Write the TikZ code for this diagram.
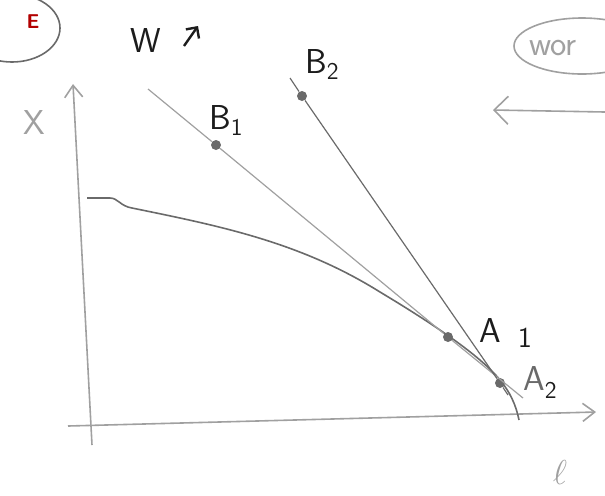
\documentclass[tikz,border=0pt]{standalone}
\usetikzlibrary{arrows.meta,positioning}
\definecolor{pencil}{HTML}{6A6A6A}
\definecolor{lightpencil}{HTML}{A0A0A0}
\definecolor{ink}{HTML}{1C1C1C}

\begin{document}
\begin{tikzpicture}[x=0.5pt, y=-0.5pt,
    axis/.style={thick, color=lightpencil, -{Straight Barb[length=6pt, width=9pt]}},
    hand/.style={font=\LARGE\sffamily, color=ink},
    faint/.style={font=\LARGE\sffamily, color=lightpencil},
    dot/.style={circle, fill=pencil, inner sep=0pt, minimum size=5pt}]
    \useasboundingbox (0,0) rectangle (605,495);

    % bubbles at the top
    \draw[pencil, thick] (12,28) ellipse [x radius=24pt, y radius=17pt];
    \node[font=\normalsize\sffamily\bfseries, color=red!70!black] (tag) at (33,22) {E};
    \draw[lightpencil, thick] (582,46) ellipse [x radius=34pt, y radius=14pt];
    \node[faint, anchor=west] (wor) at (522,48) {wor};
    \coordinate (arrstart) at (605,112);
    \coordinate (arrend) at (493,110);
    \draw[lightpencil, thick, -{Straight Barb[length=7pt, width=14pt]}] (arrstart) -- (arrend);

    % W up
    \node[hand] (wage) at (146,40) {W};
    \coordinate (upfoot) at (184,46);
    \coordinate (uphead) at (198,26);
    \draw[ink, very thick, -{Straight Barb[length=4pt, width=8pt]}] (upfoot) -- (uphead);

    % axes
    \coordinate (origin) at (92,428);
    \coordinate (ytop) at (73,84);
    \coordinate (xleft) at (68,426);
    \coordinate (xright) at (596,412);
    \draw[axis] (92,445) -- (ytop);
    \draw[axis] (xleft) -- (xright);
    \node[faint] (xlab) at (34,122) {X};
    \node[faint, font=\LARGE\itshape] (llab) at (560,472) {$\ell$};

    % production curve
    \draw[pencil, thick] (87,198) -- (110,198)
        .. controls (118,198) and (120,206) .. (132,208)
        .. controls (220,226) and (300,242) .. (380,292)
        .. controls (430,322) and (480,355) .. (500,380)
        .. controls (510,392) and (516,405) .. (519,420);

    % tangent lines
    \node[dot] (B1) at (216,145) {};
    \node[dot] (A1) at (448,337) {};
    \node[dot] (B2) at (302,96) {};
    \node[dot] (A2) at (500,383) {};
    \coordinate (top1) at (148,89);
    \coordinate (end1) at (523,398);
    \coordinate (top2) at (290,78);
    \coordinate (end2) at (508,395);
    \draw[lightpencil, semithick] (top1) -- (B1) -- (A1) -- (end1);
    \draw[pencil, semithick] (top2) -- (B2) -- (A2) -- (end2);

    % labels
    \node[hand] (B1lab) at (226,120) {B\raisebox{-3pt}{\large 1}};
    \node[hand] (B2lab) at (322,64) {B\raisebox{-3pt}{\large 2}};
    \node[hand] (A1lab) at (490,330) {A};
    \node[hand, font=\Large\sffamily] (A1sub) at (525,338) {1};
    \node[faint, color=pencil] (A2lab) at (540,382) {A\raisebox{-4pt}{\large\color{ink}2}};
\end{tikzpicture}
\end{document}
